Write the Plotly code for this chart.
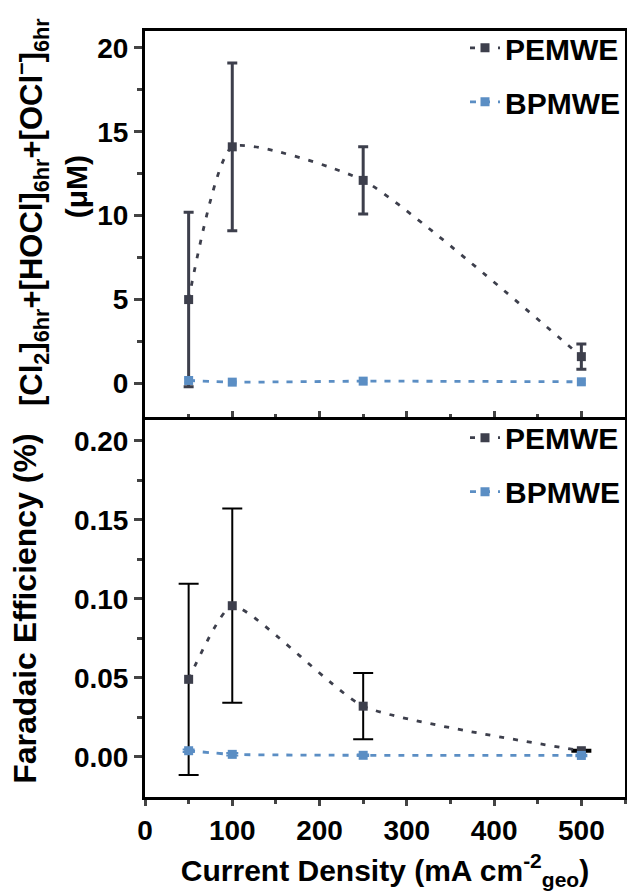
import plotly.graph_objects as go

# ---- data ----
current_density = [50, 100, 250, 500]
pem_conc = [5.0, 14.1, 12.1, 1.6]
pem_conc_err = [5.2, 5.0, 2.0, 0.75]
bpm_conc = [0.18, 0.08, 0.14, 0.10]
bpm_conc_err = [0.12, 0.1, 0.1, 0.1]
pem_fe = [0.049, 0.0956, 0.032, 0.0038]
pem_fe_err = [0.0605, 0.0615, 0.021, 0.0006]
bpm_fe = [0.0038, 0.0015, 0.0009, 0.0008]
bpm_fe_err = [0.0008, 0.0008, 0.0005, 0.0005]
series_names = ["PEMWE", "BPMWE"]

PEM_C = "#3d3f4c"
BPM_C = "#5b8ec4"
FONT = "Liberation Sans"

fig = go.Figure()

def add(x, y, err, name, color, xa, ya, legend, errcolor, errthick, errwidth, dash, group):
    fig.add_trace(go.Scatter(
        x=x, y=y, name=name, mode="lines+markers",
        xaxis=xa, yaxis=ya, legend=legend, legendgroup=group,
        line=dict(color=color, width=2.8, dash=dash, shape="spline", smoothing=0.5),
        marker=dict(symbol="square", size=9, color=color),
        error_y=dict(type="data", array=err, visible=True, color=errcolor,
                     thickness=errthick, width=errwidth),
    ))

add(current_density, pem_conc, pem_conc_err, series_names[0], PEM_C, "x", "y", "legend", PEM_C, 3, 5, "5px,9px", "a")
add(current_density, bpm_conc, bpm_conc_err, series_names[1], BPM_C, "x", "y", "legend", BPM_C, 2, 4, "6px,8px", "b")
add(current_density, pem_fe, pem_fe_err, series_names[0], PEM_C, "x2", "y2", "legend2", "black", 2, 10, "5px,9px", "c")
add(current_density, bpm_fe, bpm_fe_err, series_names[1], BPM_C, "x2", "y2", "legend2", BPM_C, 2, 6, "6px,8px", "d")

axis_common = dict(showline=True, linecolor="black", linewidth=3, mirror=True,
                   showgrid=False, zeroline=False,
                   tickfont=dict(family=FONT, size=28, color="black", weight="bold"))

title_font = dict(family=FONT, size=30, color="black", weight="bold")

fig.update_layout(
    width=627, height=891,
    margin=dict(l=145, r=2, t=31, b=94, autoexpand=False),
    paper_bgcolor="white", plot_bgcolor="white",
    font=dict(family=FONT, color="black", weight="bold"),
    xaxis=dict(**axis_common, domain=[0, 1], anchor="y", range=[0, 550],
               dtick=100, ticks="inside", ticklen=6, tickwidth=2.5,
               showticklabels=False,
               minor=dict(dtick=50, ticks="inside", ticklen=3, tickwidth=2.5)),
    yaxis=dict(**axis_common, domain=[0.496, 1], anchor="x", range=[-2, 21],
               tickvals=[0, 5, 10, 15, 20], ticks="outside", ticklen=8, tickwidth=2.5,
               minor=dict(tickvals=[2.5, 7.5, 12.5, 17.5], ticks="outside", ticklen=5, tickwidth=2.5)),
    xaxis2=dict(**axis_common, domain=[0, 1], anchor="y2", range=[0, 550],
                dtick=100, ticks="outside", ticklen=6, tickwidth=2.5,
                minor=dict(dtick=50, ticks="outside", ticklen=4, tickwidth=2.5),
                title=dict(text="Current Density (mA cm<sup>-2</sup><sub>geo</sub>)",
                           font=title_font, standoff=16)),
    yaxis2=dict(**axis_common, domain=[0, 0.492], anchor="x2", range=[-0.0255, 0.2131],
                tickvals=[0, 0.05, 0.10, 0.15, 0.20], ticktext=["0.00", "0.05", "0.10", "0.15", "0.20"],
                ticks="outside", ticklen=8, tickwidth=2.5,
                minor=dict(tickvals=[0.025, 0.075, 0.125, 0.175], ticks="outside", ticklen=5, tickwidth=2.5),
                title=dict(text="Faradaic Efficiency (%)",
                           font=dict(family=FONT, size=32, color="black", weight="bold"), standoff=28)),
    legend=dict(x=1.0, xanchor="right", y=1.012, yanchor="top", bgcolor="rgba(0,0,0,0)",
                font=dict(family=FONT, size=30, color="black", weight="bold"),
                tracegroupgap=12, traceorder="grouped"),
    legend2=dict(x=1.0, xanchor="right", y=0.503, yanchor="top", bgcolor="rgba(0,0,0,0)",
                 font=dict(family=FONT, size=30, color="black", weight="bold"),
                 tracegroupgap=12, traceorder="grouped"),
    showlegend=True,
    annotations=[
        dict(text="[Cl<sub>2</sub>]<sub>6hr</sub>+[HOCl]<sub>6hr</sub>+[OCl<sup>−</sup>]<sub>6hr</sub>",
             xref="paper", yref="paper", x=-0.2375, y=0.7637, xanchor="center", yanchor="middle",
             textangle=-90, showarrow=False, font=dict(family=FONT, size=31, color="black", weight="bold")),
        dict(text="(μM)",
             xref="paper", yref="paper", x=-0.142, y=0.797, xanchor="center", yanchor="middle",
             textangle=-90, showarrow=False, font=dict(family=FONT, size=30, color="black", weight="bold")),
    ],
)

fig.write_html("out.html", config={"displayModeBar": False},
               post_script="document.body.style.margin='0';document.body.style.padding='0';")
